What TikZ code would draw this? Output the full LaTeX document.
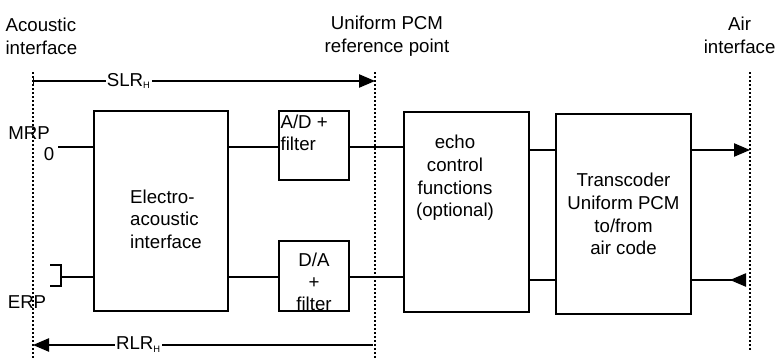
\documentclass[tikz,border=0pt]{standalone}
\usepackage{fontspec}
\setmainfont{Liberation Sans}
\usepackage{tikz}
\usetikzlibrary{arrows.meta,positioning,calc}

\tikzset{
  blk/.style={draw,line width=0.9pt,inner sep=0pt},
  refline/.style={line width=0.8pt,dash pattern=on 1.5pt off 1.5pt},
  sig/.style={line width=0.9pt},
  tip/.style={-{Triangle[length=12pt,width=10pt]}},
  lbl/.style={font=\fontsize{14}{17}\selectfont,inner sep=1pt}
}

\begin{document}
\begin{tikzpicture}[x=0.75pt,y=-0.75pt]
  \useasboundingbox (0,0) rectangle (776,358);
  % reference planes
  \coordinate (acT) at (33,72);  \coordinate (acB) at (33,358);
  \coordinate (pcmT) at (375,72); \coordinate (pcmB) at (375,358);
  \coordinate (airT) at (750,72); \coordinate (airB) at (750,352);
  \draw[refline] (acT) -- (acB);
  \draw[refline] (pcmT) -- (pcmB);
  \draw[refline] (airT) -- (airB);
  \node[lbl,align=left,anchor=west] (actxt) at (4,36) {Acoustic\\interface};
  \node[lbl,align=center] (pcmtxt) at (387,36) {Uniform PCM\\reference point};
  \node[lbl,align=center,anchor=east] (airtxt) at (777,35) {Air\\interface};

  % blocks
  \node[blk,minimum width=100.5pt,minimum height=150pt] (elec) at (161,211) {};
  \node[lbl,align=left] (electxt) at (166,219) {Electro-\\acoustic\\interface};
  \node[blk,minimum width=52.5pt,minimum height=51.75pt] (ad) at (314,145.5) {};
  \node[lbl,align=left,anchor=north west] (adtxt) at (279,113) {A/D +\\filter};
  \node[blk,minimum width=52.5pt,minimum height=52.5pt] (da) at (314,276) {};
  \node[lbl,align=center,font=\fontsize{14}{16.5}\selectfont] (datxt) at (314,282) {D/A\\+\\filter};
  \node[blk,minimum width=93.75pt,minimum height=150pt] (echo) at (466.5,212) {};
  \node[lbl,align=center] (echotxt) at (455,178) {echo\\control\\functions\\(optional)};
  \node[blk,minimum width=101.25pt,minimum height=150pt,align=center,lbl]
    (trans) at (623.5,214) {Transcoder\\Uniform PCM\\to/from\\air code};

  % acoustic side
  \node[lbl] (mrp) at (29,133) {MRP};
  \node[lbl] (mouth) at (49,154) {0};
  \coordinate (mrpend) at (58,147);
  \draw[sig] (mrpend) -- (elec.west |- mrpend);
  \coordinate (erpend) at (61,277);
  \draw[sig] (50,265) -- (61,265) -- (61,286) -- (50,286);
  \draw[sig] (erpend) -- (elec.west |- erpend);
  \node[lbl] (erp) at (27,302) {ERP};

  % signal paths
  \draw[sig] (elec.east |- 0,147) -- (ad.west |- 0,147);
  \draw[sig] (ad.east |- 0,147) -- (echo.west |- 0,147);
  \draw[sig] (elec.east |- 0,277) -- (da.west |- 0,277);
  \draw[sig] (da.east |- 0,277) -- (echo.west |- 0,277);
  \draw[sig] (echo.east |- 0,150) -- (trans.west |- 0,150);
  \draw[sig] (echo.east |- 0,280) -- (trans.west |- 0,280);
  \draw[sig,tip] (trans.east |- 0,150) -- (airT |- 0,150);
  \draw[sig,-{Triangle[length=12pt,width=10pt,reversed]}] (trans.east |- 0,280) -- (746,280);

  % loudness ratings
  \draw[sig,{Bar[width=7pt]}-{Triangle[length=12pt,width=10pt]}] (acT |- 0,81) -- (pcmT |- 0,81)
    node[lbl,fill=white,pos=0.28] (slr) {SLR\textsubscript{\scriptsize H}};
  \draw[sig,tip] (373,345) coordinate (rlrstart) -- (acB |- 0,345)
    node[lbl,fill=white,pos=0.69] (rlr) {RLR\textsubscript{\scriptsize H}};
\end{tikzpicture}
\end{document}
